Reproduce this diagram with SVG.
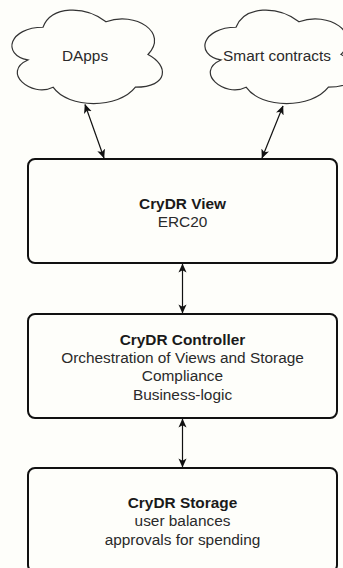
<svg xmlns="http://www.w3.org/2000/svg" width="343" height="568" viewBox="0 0 343 568">
  <style>
    .cloud { fill: #fefefa; stroke: #333; stroke-width: 1.2; }
    .box { fill: #fefefa; stroke: #111; stroke-width: 2; }
    .t { font-family: "Liberation Sans", Arial, Helvetica, sans-serif; font-size: 15.4px; fill: #2a2a2a; text-anchor: middle; }
    .b { font-weight: bold; fill: #1a1a1a; }
    .conn { stroke: #111; stroke-width: 1.2; fill: none; marker-start: url(#arr); marker-end: url(#arr); }
  </style>
  <defs>
    <path id="cloudShape" d="M 42,27.25 C 8.4,27.25 0,54.5 26.88,59.95 C 0,71.94 30.24,98.1 52.08,87.2 C 67.2,109 117.6,109 134.4,87.2 C 168,87.2 168,65.4 147,54.5 C 168,32.7 134.4,10.9 105,21.8 C 84,5.45 50.4,5.45 42,27.25 Z"/>
    <marker id="arr" viewBox="0 0 10 10" refX="9.5" refY="5" markerWidth="9" markerHeight="9" markerUnits="userSpaceOnUse" orient="auto-start-reverse">
      <path d="M0,0.5 L10,5 L0,9.5 L2.5,5 Z" fill="#111"/>
    </marker>
  </defs>
  <rect x="0" y="0" width="343" height="568" fill="#fefefa"/>

  <g id="dapps">
    <use href="#cloudShape" class="cloud" transform="translate(1,0)"/>
    <text class="t" x="85" y="61">DApps</text>
  </g>

  <g id="smart-contracts">
    <use href="#cloudShape" class="cloud" transform="translate(194,0)"/>
    <text class="t" x="277" y="61">Smart contracts</text>
  </g>

  <g id="view">
    <rect class="box" x="28" y="159" width="309" height="104" rx="7"/>
    <text class="t b" x="182.5" y="208.5">CryDR View</text>
    <text class="t" x="182.5" y="226.9">ERC20</text>
  </g>

  <g id="controller">
    <rect class="box" x="28" y="314" width="309" height="104" rx="7"/>
    <text class="t b" x="182.5" y="344.6">CryDR Controller</text>
    <text class="t" x="182.5" y="363">Orchestration of Views and Storage</text>
    <text class="t" x="182.5" y="381.4">Compliance</text>
    <text class="t" x="182.5" y="399.8">Business-logic</text>
  </g>

  <g id="storage">
    <rect class="box" x="28" y="468" width="309" height="104" rx="7"/>
    <text class="t b" x="182.5" y="508">CryDR Storage</text>
    <text class="t" x="182.5" y="526.4">user balances</text>
    <text class="t" x="182.5" y="544.8">approvals for spending</text>
  </g>

  <g id="connectors">
    <line class="conn" x1="85" y1="104.5" x2="104" y2="158"/>
    <line class="conn" x1="283" y1="106" x2="262" y2="158"/>
    <line class="conn" x1="182.5" y1="264" x2="182.5" y2="313"/>
    <line class="conn" x1="182.5" y1="419" x2="182.5" y2="467"/>
  </g>
</svg>
